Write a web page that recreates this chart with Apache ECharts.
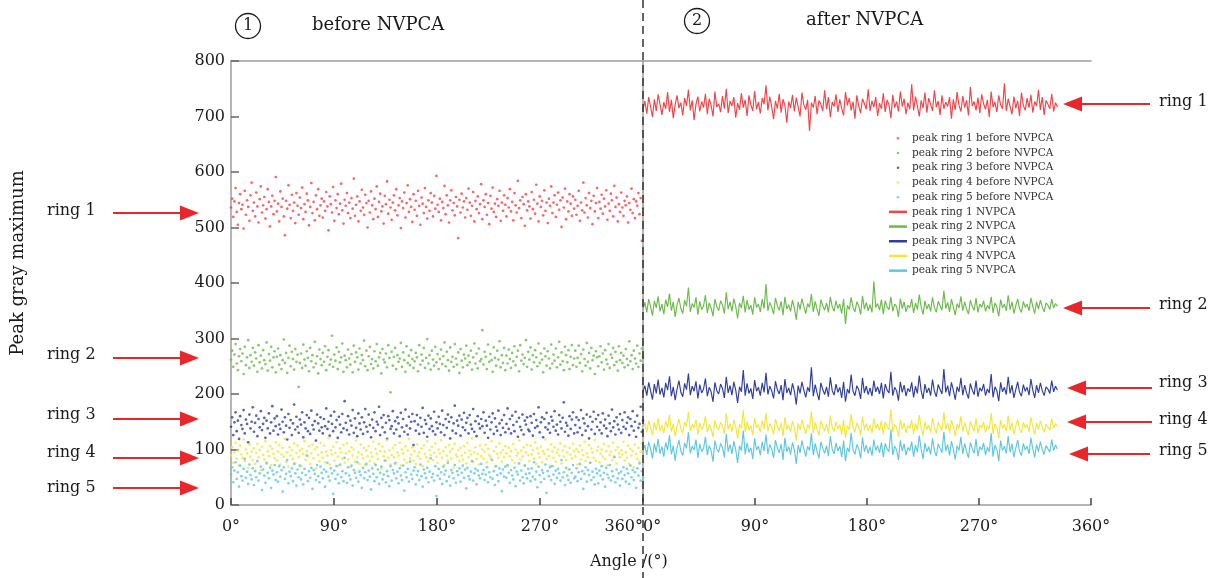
<!DOCTYPE html>
<html><head><meta charset="utf-8">
<script src="https://cdn.jsdelivr.net/npm/echarts@6/dist/echarts.min.js"></script>
<style>html,body{margin:0;padding:0;background:#fff}#c{width:1219px;height:578px}</style>
</head><body><div id="c"></div>
<script>
const ringNames = ['ring 1','ring 2','ring 3','ring 4','ring 5'];
const colors = ['#ef4449','#6cb94c','#2f3d9c','#f3e63a','#5fc7dd'];
const xTickAngles = [0, 90, 180, 270, 360];
const yRange = [0, 800];
const afterMaxAngle = 333;

const before1 = [536,552,519,547,571,528,505,544,560,533,541,498,566,523,549,537,512,558,581,530,
545,520,563,538,509,551,574,527,540,555,516,533,569,546,502,538,557,524,548,591,
529,543,511,565,537,552,520,486,548,534,576,541,517,559,530,545,508,562,539,523,
554,535,572,515,542,528,561,549,504,537,580,526,546,513,558,533,569,521,540,552,
518,547,530,564,538,495,556,542,527,573,512,549,535,560,524,543,579,531,507,550,
539,562,526,545,517,553,534,588,521,541,556,511,547,530,568,536,523,559,544,500,
548,527,565,540,515,552,533,574,519,546,561,529,538,507,557,542,583,525,550,536,
514,545,558,531,569,522,540,553,499,547,535,563,518,544,576,528,551,537,510,560,
532,548,521,566,539,505,554,543,526,571,537,516,549,530,562,545,520,557,534,593,
541,528,552,513,546,535,575,524,558,540,509,549,567,531,544,522,555,538,481,550,
527,561,536,547,518,553,532,570,545,521,539,564,511,548,533,556,526,542,578,515,
549,537,560,523,544,506,557,534,572,528,543,519,551,539,566,512,545,530,558,541,
520,553,536,569,529,546,513,562,540,527,584,535,549,517,555,542,503,560,531,547,
538,516,564,533,550,525,577,543,511,556,537,548,522,567,530,545,508,552,539,574,
526,545,558,519,541,563,532,549,501,554,536,570,515,547,529,560,543,521,556,534,
550,523,539,566,512,545,531,581,527,553,540,518,562,535,548,506,557,529,544,571,
517,546,534,559,525,552,538,567,514,543,530,561,549,520,575,537,554,511,542,528,
563,536,521,548,540,556,509,544,532,570,526,551,517,547,539,562,524,553,476,535];
const before2 = [262,278,249,271,290,255,243,268,281,259,273,236,285,252,266,297,247,270,258,283,
251,275,264,240,288,257,269,246,279,261,254,293,242,272,260,285,248,266,277,239,
267,282,253,270,245,261,298,256,274,238,265,287,250,276,263,244,281,258,271,213,
256,273,247,289,262,251,277,265,241,283,259,270,248,294,255,268,237,280,263,252,
274,258,286,243,267,279,253,262,305,249,271,260,284,245,276,257,266,291,240,269,
261,248,280,264,253,272,239,287,258,275,266,244,282,255,270,261,296,250,278,243,
268,285,254,263,246,277,259,290,251,266,274,237,281,262,257,273,248,288,265,203,
276,251,267,283,245,270,258,264,292,249,275,261,240,286,256,269,252,279,263,247,
259,274,266,241,288,253,271,260,283,247,265,299,255,270,244,278,262,251,285,257,
272,245,263,280,254,268,293,250,276,261,242,284,258,267,249,290,264,253,275,238,
281,260,248,271,264,287,252,269,257,278,244,266,291,255,273,246,282,259,263,315,
253,276,267,245,289,258,272,261,240,284,265,251,278,262,295,248,270,256,283,243,
269,255,280,263,247,274,259,286,252,267,278,241,288,260,271,254,265,297,249,276,
262,284,244,270,257,279,266,250,291,256,273,262,239,282,268,251,277,264,246,289,
255,271,260,282,248,266,294,253,275,259,243,285,270,257,279,245,267,288,252,264,
278,249,265,287,256,272,241,280,263,251,292,258,274,246,283,261,269,236,277,266,
250,268,286,257,273,244,279,262,254,290,247,271,265,283,252,276,258,242,286,261,
274,256,269,248,281,263,252,295,259,270,245,278,264,255,287,249,273,260,282,267];
const before3 = [141,158,126,149,167,133,152,119,160,144,137,171,129,154,146,113,163,138,150,176,
132,148,161,124,155,140,169,135,146,157,121,152,138,165,129,149,178,134,156,142,
160,127,145,137,172,150,131,158,143,118,164,139,153,126,147,181,136,159,141,130,
154,145,167,122,149,138,162,133,157,128,170,144,136,151,116,163,147,134,158,140,
129,155,142,174,137,150,125,161,146,133,168,140,153,121,159,145,131,164,138,187,
148,135,160,127,152,143,171,130,156,139,124,165,147,136,158,128,149,173,141,132,
163,144,122,154,139,167,133,150,145,177,126,157,140,162,131,148,119,160,153,137,
142,169,129,151,136,158,147,124,166,140,155,132,172,143,127,159,138,150,164,108,
151,134,162,145,128,157,141,175,130,153,146,123,161,137,156,142,133,168,127,149,
138,159,146,131,170,144,126,155,139,163,150,120,158,134,147,179,129,152,143,161,
125,154,140,166,135,148,157,129,162,145,137,173,132,151,124,160,146,138,155,142,
167,130,152,143,121,159,136,149,165,128,156,141,134,170,147,126,153,139,162,131,
146,174,137,155,129,161,144,133,168,150,123,157,141,135,163,127,152,145,158,136,
133,160,148,125,164,139,153,142,176,131,149,158,122,155,140,166,136,147,130,159,
152,141,169,134,145,127,162,150,138,157,185,132,148,143,125,160,137,154,167,129,
144,158,131,153,139,171,126,156,147,134,163,142,120,159,136,150,168,128,155,141,
162,135,149,129,165,143,154,138,124,161,147,133,172,140,151,127,158,145,136,164,
130,153,141,167,137,148,158,126,155,142,169,134,150,123,161,139,146,177,132,152];
const before4 = [89,104,76,95,112,83,98,71,107,91,85,118,79,100,93,67,109,87,96,81,
102,74,94,110,86,99,63,105,90,82,115,77,97,88,106,72,101,92,84,113,
80,96,108,73,91,103,87,119,78,95,69,104,89,99,83,111,75,94,107,86,
98,70,101,92,115,81,97,88,106,74,93,109,84,100,66,104,90,79,112,95,
85,107,77,96,89,121,73,99,91,105,80,94,113,87,71,102,95,83,108,76,
93,111,82,97,68,104,89,100,78,116,86,95,74,109,91,84,103,72,98,88,
106,79,94,87,114,75,101,92,83,110,97,65,105,88,96,80,117,85,99,73,
90,103,86,108,77,95,89,112,71,100,93,82,106,76,98,119,84,91,104,80,
97,74,109,88,95,83,102,70,107,92,86,115,78,99,90,105,81,94,111,87,
76,100,93,117,85,97,72,104,89,80,108,96,84,101,67,110,91,87,99,79,
103,89,82,106,94,75,112,86,98,91,120,78,95,104,83,92,73,107,88,100,
84,96,109,77,101,90,87,115,80,97,69,105,92,85,111,94,78,99,86,106,
93,70,103,88,97,81,110,76,100,89,94,116,82,98,87,104,72,95,108,90,
79,107,91,99,84,113,74,102,93,86,105,77,97,92,118,83,100,88,71,109,
96,85,104,78,94,100,89,111,75,98,87,106,81,95,64,103,91,84,110,97,
88,101,73,96,107,82,99,90,114,79,93,86,108,76,102,95,85,117,80,98,
105,77,92,100,87,110,83,97,72,106,90,96,81,112,88,99,75,104,93,86,
99,91,114,80,95,85,107,74,101,89,97,68,109,92,83,103,78,96,111,87];
const before5 = [55,68,41,62,77,47,59,33,71,52,44,65,83,49,60,38,73,54,46,66,
36,61,50,79,44,57,69,27,64,53,40,75,58,48,67,31,62,55,72,45,
59,42,70,51,63,24,68,47,56,81,39,60,52,66,43,74,57,35,64,50,
71,46,58,37,65,54,89,43,61,49,67,29,63,56,45,72,52,41,69,58,
48,64,33,60,76,51,44,66,57,20,62,47,70,55,39,73,50,61,43,85,
57,40,68,53,46,71,35,63,58,49,77,42,60,54,31,67,48,59,74,45,
62,51,28,66,56,43,72,50,64,38,58,69,46,55,80,41,61,52,34,70,
44,63,57,75,48,60,39,66,53,45,71,26,59,50,65,42,78,55,47,62,
68,37,54,61,45,73,52,33,64,57,49,67,41,60,84,50,56,44,70,16,
53,65,47,59,38,69,55,62,43,76,51,35,63,58,48,72,40,61,54,66,
42,58,71,49,64,30,67,52,46,60,79,44,57,65,37,62,53,48,74,56,
63,45,55,68,41,59,50,82,47,61,36,70,54,43,66,57,25,64,51,69,
49,72,58,40,63,53,46,67,34,60,55,75,44,62,50,39,71,56,48,65,
57,43,66,51,77,46,60,32,69,54,41,63,58,47,73,22,61,52,68,45,
70,55,38,62,49,65,57,44,81,50,59,36,67,53,45,64,40,58,72,48,
51,66,43,59,74,47,61,29,56,68,42,63,54,76,45,60,50,37,65,57,
39,62,53,70,46,58,33,67,55,49,72,44,61,52,86,41,64,48,57,35,
60,47,68,54,42,65,57,38,71,50,63,45,59,31,66,53,75,44,61,49];

const after1 = [712,728,705,735,718,699,731,710,740,722,703,726,714,744,708,730,697,721,738,715,
725,702,733,719,748,711,729,694,722,736,709,727,716,741,704,732,720,700,745,717,
723,708,737,714,750,706,728,719,735,698,724,712,742,716,730,701,738,721,710,746,
713,726,705,733,722,756,711,736,718,695,728,714,741,707,731,720,689,727,715,739,
709,734,717,700,743,721,712,730,674,725,716,737,704,729,722,710,747,713,735,699,
726,718,740,708,731,715,702,744,720,733,711,727,696,738,719,706,732,723,713,749,
710,728,717,735,701,724,714,742,708,730,721,697,739,716,727,709,745,718,732,704,
725,713,758,711,736,719,700,729,715,743,707,733,722,710,747,717,728,703,738,714,
726,718,735,696,731,712,744,720,709,737,716,729,702,753,719,727,711,734,706,740,
723,713,730,699,745,717,726,708,738,721,714,760,710,732,718,704,736,715,728,701,
743,720,711,733,716,739,707,727,719,748,712,735,703,729,722,714,741,709,725,717];
const after2 = [352,365,347,371,358,341,368,355,376,349,362,344,370,357,381,350,366,339,360,373,
354,345,369,358,392,348,363,356,374,343,367,352,359,378,346,364,355,340,371,357,
350,368,361,345,383,353,366,349,372,358,336,364,355,377,347,369,352,360,343,374,
356,362,348,371,354,398,350,365,357,344,373,359,351,367,342,375,353,361,349,369,
355,334,366,352,372,358,345,363,356,380,348,367,353,341,370,359,351,364,347,375,
357,349,368,354,362,345,371,326,360,352,374,356,348,366,359,343,377,353,365,350,
361,347,403,356,363,351,370,344,368,357,352,375,349,362,358,339,372,354,366,348,
360,355,371,346,364,352,379,357,343,368,353,362,349,374,356,347,367,359,351,386,
354,365,348,371,357,342,363,355,376,350,366,353,344,369,358,351,373,347,362,356,
368,349,360,353,375,346,364,357,340,370,355,362,350,378,352,366,345,359,371,354,
347,367,356,362,350,373,358,345,366,353,369,357,348,364,360,352,371,355,363,358];
const after3 = [204,215,197,221,206,190,218,201,226,199,211,194,220,207,232,196,213,189,209,224,
203,195,219,208,237,198,214,205,223,192,217,202,209,228,196,212,204,186,221,206,
200,218,210,193,231,202,215,198,222,207,184,213,204,243,197,219,201,210,191,225,
205,212,197,220,203,238,199,214,206,192,223,208,200,216,189,227,202,211,198,219,
205,181,215,201,222,207,194,212,204,248,196,217,202,189,220,208,199,213,195,230,
206,198,218,203,212,193,222,186,209,201,235,205,197,215,208,191,229,202,214,199,
211,196,224,204,213,200,220,192,218,207,202,240,197,212,206,188,222,203,216,196,
210,204,221,194,214,201,233,206,191,218,202,211,197,226,205,195,217,208,200,245,
203,215,196,221,207,190,213,204,229,198,216,202,192,219,207,199,224,195,211,205,
218,197,209,202,236,194,213,206,187,221,204,212,199,231,201,216,193,208,222,203,
196,217,205,212,198,227,207,193,216,202,220,206,197,213,209,201,224,204,214,207];
const after4 = [138,147,131,152,140,126,149,135,156,133,144,129,151,139,163,132,146,124,142,155,
137,130,150,141,168,133,145,139,154,127,148,136,142,160,131,145,138,122,153,140,
135,149,143,128,165,136,147,132,153,141,119,146,138,171,131,150,135,143,126,157,
139,145,131,152,137,166,133,147,140,127,155,142,134,148,124,158,136,144,132,151,
139,117,147,135,154,141,128,145,138,169,130,149,136,125,152,142,133,146,129,161,
140,132,150,137,145,127,154,121,143,135,164,139,131,148,142,126,159,136,147,133,
144,130,156,138,146,134,152,127,150,141,136,173,131,145,140,123,154,137,148,130,
143,138,153,128,147,135,162,140,125,150,136,144,131,157,139,129,149,142,134,167,
137,148,130,153,141,124,146,138,160,132,149,136,126,151,141,133,156,129,144,139,
150,131,143,136,166,128,146,140,121,153,138,145,133,161,135,149,127,142,154,137,
130,149,139,145,132,158,141,127,148,136,152,140,131,146,143,135,156,138,147,141];
const after5 = [98,108,90,114,101,84,111,95,119,92,105,87,113,99,126,91,107,80,103,117,
97,89,112,102,131,93,106,99,118,85,110,96,102,123,90,107,98,78,116,101,
95,111,104,86,128,96,109,92,115,100,76,107,98,134,91,112,95,103,83,120,
99,106,90,114,97,127,92,109,101,85,117,103,94,110,81,121,96,105,91,113,
99,74,108,94,116,101,87,106,98,129,90,111,96,84,114,102,93,107,88,124,
100,92,112,97,106,86,116,79,103,95,130,99,91,109,102,84,122,96,108,93,
105,89,118,98,107,94,113,86,111,101,96,136,90,106,100,81,116,97,110,90,
104,98,114,87,108,95,125,100,83,112,96,105,91,120,99,88,110,102,94,132,
97,109,89,115,101,82,107,98,123,92,111,96,85,113,101,93,119,88,105,99,
112,90,104,96,129,87,108,100,79,116,98,106,93,124,95,110,86,102,117,97,
89,111,99,106,92,121,101,86,109,96,114,100,91,107,104,95,118,98,108,101];

const beforeSets = [before1, before2, before3, before4, before5];
const afterSets = [after1, after2, after3, after4, after5];

const FONT = 'DejaVu Serif';
const RED = '#e9262b';
const TXT = '#1a1a1a';
const chart = echarts.init(document.getElementById('c'), null, {renderer: 'canvas'});

const series = [];
beforeSets.forEach((arr, k) => {
  series.push({
    name: 'peak ' + ringNames[k] + ' before NVPCA',
    type: 'scatter', xAxisIndex: 0, yAxisIndex: 0,
    symbolSize: 2.7, itemStyle: {color: colors[k]},
    data: arr.map((v, i) => [i * 360 / (arr.length - 1), v])
  });
});
afterSets.forEach((arr, k) => {
  series.push({
    name: 'peak ' + ringNames[k] + ' NVPCA',
    type: 'line', xAxisIndex: 2, yAxisIndex: 1,
    showSymbol: false, symbol: 'none',
    lineStyle: {color: colors[k], width: 1.15}, itemStyle: {color: colors[k]},
    data: arr.map((v, i) => [i * afterMaxAngle / (arr.length - 1), v])
  });
});

const axisLineStyle = {color: '#9c9c9c', width: 1.5};
function bottomAxis(grid, minAlign, maxAlign) {
  return {
    gridIndex: grid, type: 'value', min: xTickAngles[0], max: xTickAngles[xTickAngles.length - 1],
    interval: 90, position: 'bottom',
    axisLine: {show: true, lineStyle: axisLineStyle},
    axisTick: {show: true, inside: true, length: 7, lineStyle: {color: '#444', width: 1.5}},
    axisLabel: {formatter: '{value}°', fontFamily: FONT, fontSize: 16, color: TXT, margin: 14,
      alignMinLabel: minAlign, alignMaxLabel: maxAlign},
    splitLine: {show: false}
  };
}
function topAxis(grid) {
  return {gridIndex: grid, type: 'value', min: 0, max: 360, position: 'top',
    axisLine: {show: true, lineStyle: axisLineStyle}, axisTick: {show: false},
    axisLabel: {show: false}, splitLine: {show: false}};
}

function arrow(x1, x2, y) {
  const dir = x2 > x1 ? 1 : -1;
  const headLen = 19, half = 7.5;
  const base = x2 - dir * headLen;
  return [
    {type: 'line', shape: {x1: x1, y1: y, x2: base + dir * 2, y2: y}, style: {stroke: RED, lineWidth: 2.2}, z: 50},
    {type: 'polygon', shape: {points: [[x2, y], [base, y - half], [base, y + half]]}, style: {fill: RED}, z: 50}
  ];
}
const leftArrows = [213, 358, 419, 458, 488];
const leftLabels = [213, 357, 417, 455, 490];
const rightArrows = [[1150, 1063, 104], [1150, 1063, 308], [1152, 1067, 388], [1152, 1067, 422], [1150, 1069, 454]];
const rightLabels = [104, 307, 385, 422, 453];

const graphic = [];
leftArrows.forEach((y, k) => {
  graphic.push(...arrow(113, 199, y));
  graphic.push({type: 'text', left: 47, top: leftLabels[k] - 10, style: {text: ringNames[k], font: '16px "' + FONT + '"', fill: TXT}, z: 50});
});
rightArrows.forEach((a, k) => {
  graphic.push(...arrow(a[0], a[1], a[2]));
  graphic.push({type: 'text', left: 1159, top: rightLabels[k] - 10, style: {text: ringNames[k], font: '16px "' + FONT + '"', fill: TXT}, z: 50});
});
graphic.push({type: 'line', shape: {x1: 643, y1: 0, x2: 643, y2: 578}, style: {stroke: '#333', lineWidth: 1.5, lineDash: [8, 5]}, z: 60});
graphic.push({type: 'circle', shape: {cx: 248, cy: 26, r: 12.5}, style: {fill: 'none', stroke: TXT, lineWidth: 1.3}, z: 50});
graphic.push({type: 'text', x: 248, y: 26, style: {text: '1', font: '16px "' + FONT + '"', fill: TXT, align: 'center', verticalAlign: 'middle'}, z: 50});
graphic.push({type: 'text', left: 312, top: 16, style: {text: 'before NVPCA', font: '18px "' + FONT + '"', fill: TXT}, z: 50});
graphic.push({type: 'circle', shape: {cx: 697, cy: 21, r: 12.5}, style: {fill: 'none', stroke: TXT, lineWidth: 1.3}, z: 50});
graphic.push({type: 'text', x: 697, y: 21, style: {text: '2', font: '16px "' + FONT + '"', fill: TXT, align: 'center', verticalAlign: 'middle'}, z: 50});
graphic.push({type: 'text', left: 806, top: 11, style: {text: 'after NVPCA', font: '18px "' + FONT + '"', fill: TXT}, z: 50});
graphic.push({type: 'text', left: 590, top: 554, style: {text: 'Angle /(°)', font: '16px "' + FONT + '"', fill: TXT}, z: 50});
graphic.push({type: 'text', x: 18, y: 263, rotation: Math.PI / 2,
  style: {text: 'Peak gray maximum', font: '18px "' + FONT + '"', fill: TXT, align: 'center', verticalAlign: 'middle'}, z: 50});

const legendData = [];
beforeSets.forEach((a, k) => legendData.push({name: 'peak ' + ringNames[k] + ' before NVPCA', icon: 'circle'}));
afterSets.forEach((a, k) => legendData.push({name: 'peak ' + ringNames[k] + ' NVPCA', icon: 'rect'}));

chart.setOption({
  animation: false,
  backgroundColor: '#fff',
  grid: [
    {left: 231, top: 61, width: 412, height: 444},
    {left: 643, top: 61, width: 448, height: 444}
  ],
  xAxis: [bottomAxis(0, 'center', 'right'), topAxis(0), bottomAxis(1, 'left', 'center'), topAxis(1)],
  yAxis: [
    {gridIndex: 0, type: 'value', min: yRange[0], max: yRange[1], interval: 100,
      axisLine: {show: true, lineStyle: axisLineStyle},
      axisTick: {show: true, inside: true, length: 8, lineStyle: {color: '#666', width: 1.5}},
      axisLabel: {fontFamily: FONT, fontSize: 16, color: TXT, margin: 6},
      splitLine: {show: false}},
    {gridIndex: 1, type: 'value', min: yRange[0], max: yRange[1], position: 'right',
      axisLine: {show: true, lineStyle: axisLineStyle}, axisTick: {show: false},
      axisLabel: {show: false}, splitLine: {show: false}}
  ],
  legend: {
    orient: 'vertical', left: 884, top: 127, itemWidth: 18, itemHeight: 2.5, itemGap: 2,
    textStyle: {fontFamily: FONT, fontSize: 10.5, color: '#333', lineHeight: 12.7},
    data: legendData
  },
  graphic: graphic,
  series: series
});
</script></body></html>
